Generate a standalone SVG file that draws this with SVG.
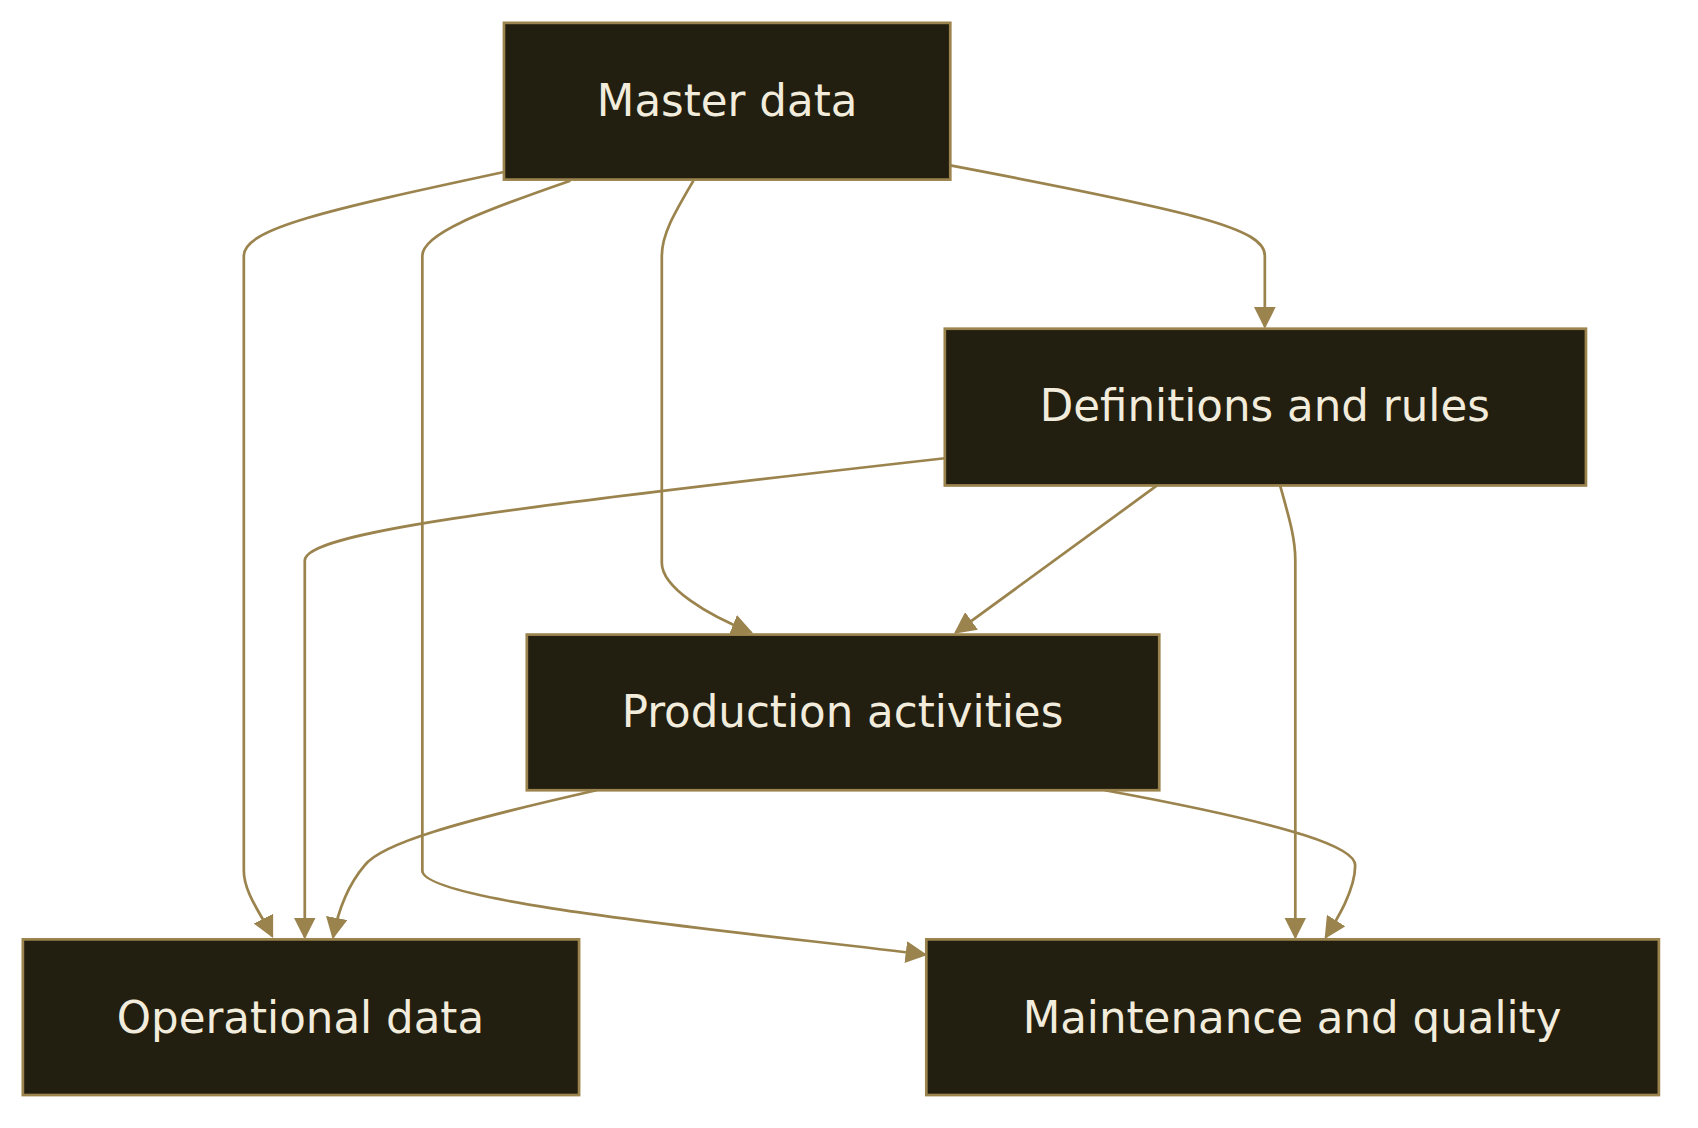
<svg xmlns="http://www.w3.org/2000/svg" width="1698" height="1128" viewBox="0 0 1698 1128">
<style>
.n rect{fill:#221e10;stroke:#9b834d;stroke-width:2.5}
.n text{fill:#f2ecdc;font-family:"DejaVu Sans",sans-serif;font-size:40px;text-anchor:middle}
.e path{fill:none;stroke:#9b834d;stroke-width:2.5}
</style>
<defs><marker id="a" viewBox="0 0 10 10" refX="9" refY="5" markerWidth="20" markerHeight="20" markerUnits="userSpaceOnUse" orient="auto"><path d="M0,0L10,5L0,10z" fill="#9b834d"/></marker></defs>
<rect width="1698" height="1128" fill="#fff"/>
<g transform="scale(1.0885)">
<g class="e">
<path d="M463,158C300,193 224,210 224,235V800C224,820 240,840 250,860" marker-end="url(#a)"/>
<path d="M524,166C440,195 388,215 388,235V800C388,830 700,858 850,877" marker-end="url(#a)"/>
<path d="M637,166C620,195 608,215 608,235V517C608,540 650,565 690,581" marker-end="url(#a)"/>
<path d="M873,152C1100,195 1162,210 1162,235V300" marker-end="url(#a)"/>
<path d="M868,421C450,468 280,490 280,515V861" marker-end="url(#a)"/>
<path d="M1063,446L878,581" marker-end="url(#a)"/>
<path d="M1176,446C1185,478 1190,495 1190,515V861" marker-end="url(#a)"/>
<path d="M548,726C420,755 350,775 335,795C318,815 310,840 306,861" marker-end="url(#a)"/>
<path d="M1015,726C1200,760 1245,780 1245,795C1245,818 1228,845 1218,861" marker-end="url(#a)"/>
</g>
<g id="master" class="n"><rect x="463" y="21" width="410" height="144"/><text x="668" y="107">Master data</text></g>
<g id="defs" class="n"><rect x="868" y="302" width="589" height="144"/><text x="1162" y="387">Definitions and rules</text></g>
<g id="prod" class="n"><rect x="484" y="583" width="581" height="143"/><text x="774" y="668">Production activities</text></g>
<g id="oper" class="n"><rect x="21" y="863" width="511" height="143"/><text x="276" y="949">Operational data</text></g>
<g id="maint" class="n"><rect x="851" y="863" width="673" height="143"/><text x="1187" y="949">Maintenance and quality</text></g>
</g>
</svg>
